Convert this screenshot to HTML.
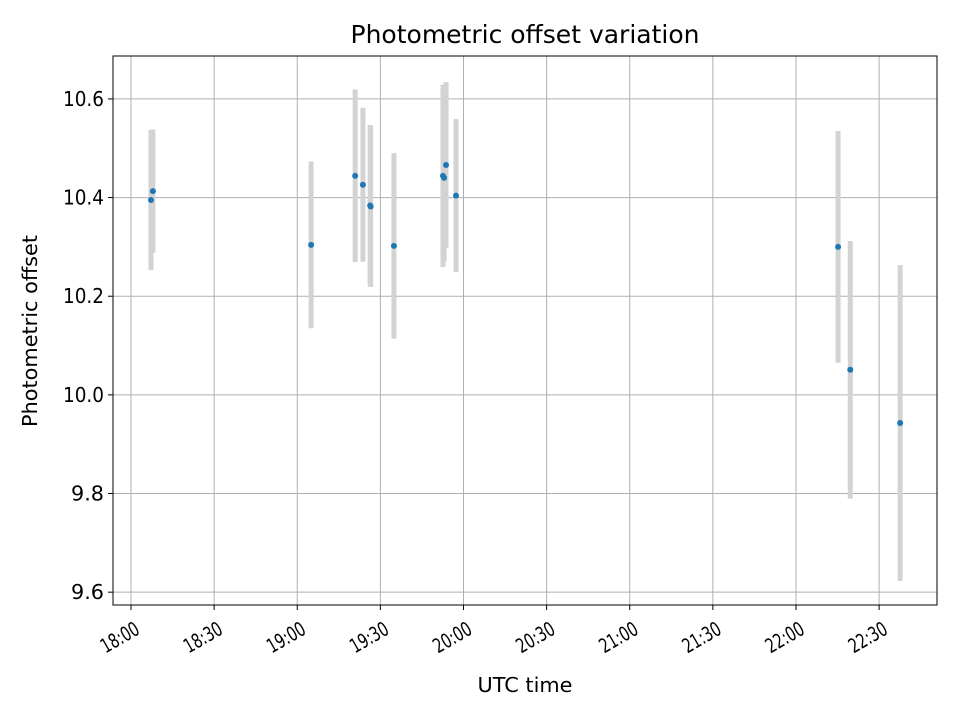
<!DOCTYPE html>
<html><head><meta charset="utf-8"><style>
body{margin:0;background:#fff;font-family:"Liberation Sans","DejaVu Sans",sans-serif}
svg text{font-family:"DejaVu Sans","Liberation Sans",sans-serif;fill:#000}
</style></head><body>
<svg id="chart" width="960" height="720" xmlns="http://www.w3.org/2000/svg">
<rect width="960" height="720" fill="#fff"/>
<g id="grid"></g><g id="marks"></g><g id="axes"></g>
<text x="525" y="43" font-size="25" text-anchor="middle" textLength="349" lengthAdjust="spacingAndGlyphs">Photometric offset variation</text>
<text x="525" y="692" font-size="20" text-anchor="middle" textLength="95" lengthAdjust="spacingAndGlyphs">UTC time</text>
<text transform="translate(37,331) rotate(-90)" font-size="20" text-anchor="middle" textLength="192" lengthAdjust="spacingAndGlyphs">Photometric offset</text>
</svg>
<script>
// minutes after 18:00 UTC
const times=[7.2,7.9,65.0,80.9,83.7,86.3,86.5,94.9,112.6,113.0,113.7,117.3,255.2,259.6,277.6];
const offsets=[10.395,10.413,10.304,10.444,10.426,10.384,10.382,10.302,10.444,10.440,10.466,10.404,10.300,10.051,9.943];
const errors=[0.142,0.125,0.169,0.175,0.156,0.163,0.163,0.188,0.185,0.17,0.168,0.155,0.235,0.261,0.32];
const yTicks=[9.6,9.8,10.0,10.2,10.4,10.6];
const xTicks=[0,30,60,90,120,150,180,210,240,270];
const xTickLabels=["18:00","18:30","19:00","19:30","20:00","20:30","21:00","21:30","22:00","22:30"];

const L=113,R=937,T=56,B=605;
const xMin=-6.5,xMax=290.9,yMin=9.574,yMax=10.687;
const X=t=>L+(t-xMin)/(xMax-xMin)*(R-L);
const Y=v=>B-(v-yMin)/(yMax-yMin)*(B-T);
const NS="http://www.w3.org/2000/svg";
function mk(tag,parent,attrs){const e=document.createElementNS(NS,tag);for(const k in attrs)e.setAttribute(k,attrs[k]);parent.appendChild(e);return e;}
const grid=document.getElementById('grid'),marks=document.getElementById('marks'),axes=document.getElementById('axes');

yTicks.forEach(v=>{
  const gl=mk('line',grid,{x1:L,x2:R,y1:Y(v),y2:Y(v),stroke:'#b0b0b0','stroke-width':1});
  
  
  mk('line',axes,{x1:L-5,x2:L,y1:Y(v),y2:Y(v),stroke:'#000','stroke-width':1});
  const lab=v.toFixed(1);
  const t=mk('text',axes,{x:L-9,y:Y(v)+7,'font-size':20,'text-anchor':'end',textLength:lab.length===4?41:33,lengthAdjust:'spacingAndGlyphs'});
  t.textContent=lab;
  
  
});
xTicks.forEach((m,i)=>{
  const gl=mk('line',grid,{x1:X(m),x2:X(m),y1:T,y2:B,stroke:'#b0b0b0','stroke-width':1});
  
  
  mk('line',axes,{x1:X(m),x2:X(m),y1:B,y2:B+5,stroke:'#000','stroke-width':1});
  const ax=X(m)+3,ay=B+16;
  const t=mk('text',axes,{x:ax,y:ay,'font-size':20,'text-anchor':'end',dy:'0.7em',textLength:41,lengthAdjust:'spacingAndGlyphs',transform:`rotate(-30 ${ax} ${ay})`});
  t.textContent=xTickLabels[i];
  
  
});
times.forEach((tm,i)=>{
  const eb=mk('line',marks,{x1:X(tm),x2:X(tm),y1:Y(offsets[i]+errors[i]),y2:Y(offsets[i]-errors[i]),stroke:'#d3d3d3','stroke-width':5});
  
  
});
times.forEach((tm,i)=>{
  const c=mk('circle',marks,{cx:X(tm),cy:Y(offsets[i]),r:3,fill:'#1f77b4'});
  
  
});
const frame=mk('rect',axes,{x:L,y:T,width:R-L,height:B-T,fill:'none',stroke:'#000','stroke-width':1});


</script>
</body></html>
